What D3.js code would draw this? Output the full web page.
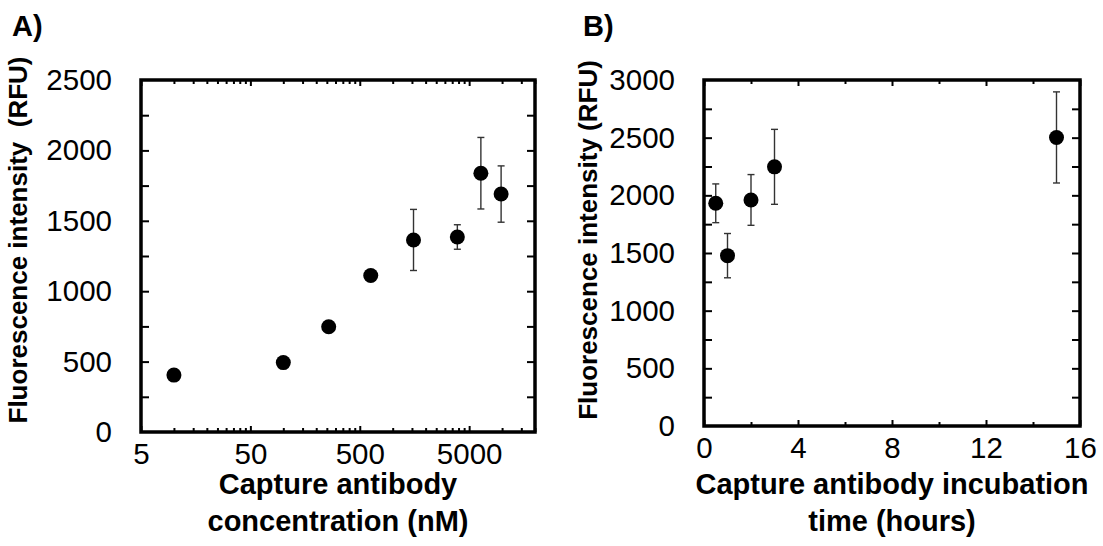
<!DOCTYPE html>
<html>
<head>
<meta charset="utf-8">
<script src="https://cdn.jsdelivr.net/npm/d3@7"></script>
<style>
  body { margin: 0; background: #fff; }
  text { font-family: "Liberation Sans", Arial, sans-serif; fill: #000; }
</style>
</head>
<body>
<div id="chart"></div>
<script>
let width = 1103,
    height = 546;

// panel A : capture antibody concentration (nM), log axis
const concA  = [10, 100, 260, 630, 1550, 3900, 6400, 9800];
const meanA  = [404, 493, 748, 1111, 1364, 1385, 1838, 1690];
const errA   = [0, 0, 0, 0, 217, 87, 254, 200];
const xLabelsA = [5, 50, 500, 5000];
const minorMult = [2, 3, 4, 5, 6, 7, 8, 9];
const yLabelsA = [0, 500, 1000, 1500, 2000, 2500];

// panel B : incubation time (hours)
const timeB  = [0.5, 1, 2, 3, 15];
const meanB  = [1931, 1477, 1960, 2247, 2502];
const errB   = [168, 192, 220, 325, 395];
const xLabelsB = [0, 4, 8, 12, 16];
const yLabelsB = [0, 500, 1000, 1500, 2000, 2500, 3000];

const svg = d3.select("#chart")
  .append("svg")
  .attr("width", width)
  .attr("height", height);

function panel(opts) {
  let { left, right, top, bottom, x, y, xs, ys, errs, xTicks, xMinor, yTicks, yMinor,
        xTitle, yTitle, yTitleX, tag, tagX } = opts;

  let g = svg.append("g");

  // ticks (inside), left/right
  g.append("g")
    .attr("transform", `translate(${left},0)`)
    .call(d3.axisLeft(y).tickValues(yMinor).tickSize(-8).tickFormat(""))
    .call(a => a.select(".domain").remove());
  g.append("g")
    .attr("transform", `translate(${right},0)`)
    .call(d3.axisRight(y).tickValues(yMinor).tickSize(-8).tickFormat(""))
    .call(a => a.select(".domain").remove());

  // y labels
  g.append("g")
    .attr("transform", `translate(${left},0)`)
    .call(d3.axisLeft(y).tickValues(yTicks).tickSize(0).tickPadding(29).tickFormat(d => d))
    .call(a => a.select(".domain").remove())
    .selectAll("text")
    .style("font-size", "29.5px");

  // x ticks top/bottom
  for (let [vals, len] of [[xMinor, 4], [xTicks, 6]]) {
    g.append("g")
      .attr("transform", `translate(0,${bottom})`)
      .call(d3.axisBottom(x).tickValues(vals).tickSize(-len).tickFormat(""))
      .call(a => a.select(".domain").remove());
    g.append("g")
      .attr("transform", `translate(0,${top})`)
      .call(d3.axisTop(x).tickValues(vals).tickSize(-len).tickFormat(""))
      .call(a => a.select(".domain").remove());
  }
  g.selectAll(".tick line").attr("stroke", "#000").attr("stroke-width", 2);

  // x labels
  g.append("g")
    .attr("transform", `translate(0,${bottom})`)
    .call(d3.axisBottom(x).tickValues(xTicks).tickSize(0).tickPadding(11).tickFormat(d => d))
    .call(a => a.select(".domain").remove())
    .selectAll("text")
    .style("font-size", "29.5px");

  // frame
  g.append("rect")
    .attr("x", left)
    .attr("y", top)
    .attr("width", right - left)
    .attr("height", bottom - top)
    .attr("fill", "none")
    .attr("stroke", "#000")
    .attr("stroke-width", 3.5);

  // error bars
  let eb = g.append("g").attr("stroke", "#333").attr("stroke-width", 1.4);
  xs.forEach((d, i) => {
    if (!errs[i]) return;
    let cx = x(d);
    eb.append("line")
      .attr("x1", cx).attr("x2", cx)
      .attr("y1", y(ys[i] + errs[i])).attr("y2", y(ys[i] - errs[i]));
    for (let v of [ys[i] + errs[i], ys[i] - errs[i]]) {
      eb.append("line")
        .attr("x1", cx - 3.5).attr("x2", cx + 3.5)
        .attr("y1", y(v)).attr("y2", y(v));
    }
  });

  // points
  g.selectAll("circle")
    .data(xs)
    .join("circle")
    .attr("cx", d => x(d))
    .attr("cy", (d, i) => y(ys[i]))
    .attr("r", 7.5)
    .attr("fill", "#000");

  // titles
  let cx = (left + right) / 2;
  g.append("text")
    .attr("x", cx)
    .attr("y", 494)
    .attr("text-anchor", "middle")
    .style("font-size", "29px")
    .style("font-weight", "bold")
    .text(xTitle[0]);
  g.append("text")
    .attr("x", cx)
    .attr("y", 531)
    .attr("text-anchor", "middle")
    .style("font-size", "29px")
    .style("font-weight", "bold")
    .text(xTitle[1]);

  g.append("text")
    .attr("transform", `translate(${yTitleX},240) rotate(-90)`)
    .attr("text-anchor", "middle")
    .style("font-size", "26px")
    .style("font-weight", "bold")
    .style("white-space", "pre")
    .text(yTitle);

  g.append("text")
    .attr("x", tagX)
    .attr("y", 36)
    .style("font-size", "29px")
    .style("font-weight", "bold")
    .text(tag);
}

// ---- A ----
let leftA = 141, rightA = 535, topA = 80, bottomA = 432;
let xA = d3.scaleLog().domain([5, 20000]).range([leftA, rightA]);
let yA = d3.scaleLinear().domain([0, 2500]).range([bottomA, topA]);
let minorA = [];
for (let m of xLabelsA) for (let k of minorMult) if (m * k <= 20000) minorA.push(m * k);
let yMinorA = d3.range(250, 2500, 250);

panel({
  left: leftA, right: rightA, top: topA, bottom: bottomA, x: xA, y: yA,
  xs: concA, ys: meanA, errs: errA,
  xTicks: xLabelsA, xMinor: minorA, yTicks: yLabelsA, yMinor: yMinorA,
  xTitle: ["Capture antibody", "concentration (nM)"],
  yTitle: "Fluorescence intensity  (RFU)", yTitleX: 27,
  tag: "A)", tagX: 12
});

// ---- B ----
let leftB = 704, rightB = 1080, topB = 80, bottomB = 426;
let xB = d3.scaleLinear().domain([0, 16]).range([leftB, rightB]);
let yB = d3.scaleLinear().domain([0, 3000]).range([bottomB, topB]);

panel({
  left: leftB, right: rightB, top: topB, bottom: bottomB, x: xB, y: yB,
  xs: timeB, ys: meanB, errs: errB,
  xTicks: xLabelsB, xMinor: [2, 6, 10, 14], yTicks: yLabelsB, yMinor: d3.range(250, 3000, 250),
  xTitle: ["Capture antibody incubation", "time (hours)"],
  yTitle: "Fluorescence intensity (RFU)", yTitleX: 597,
  tag: "B)", tagX: 583
});
</script>
</body>
</html>
